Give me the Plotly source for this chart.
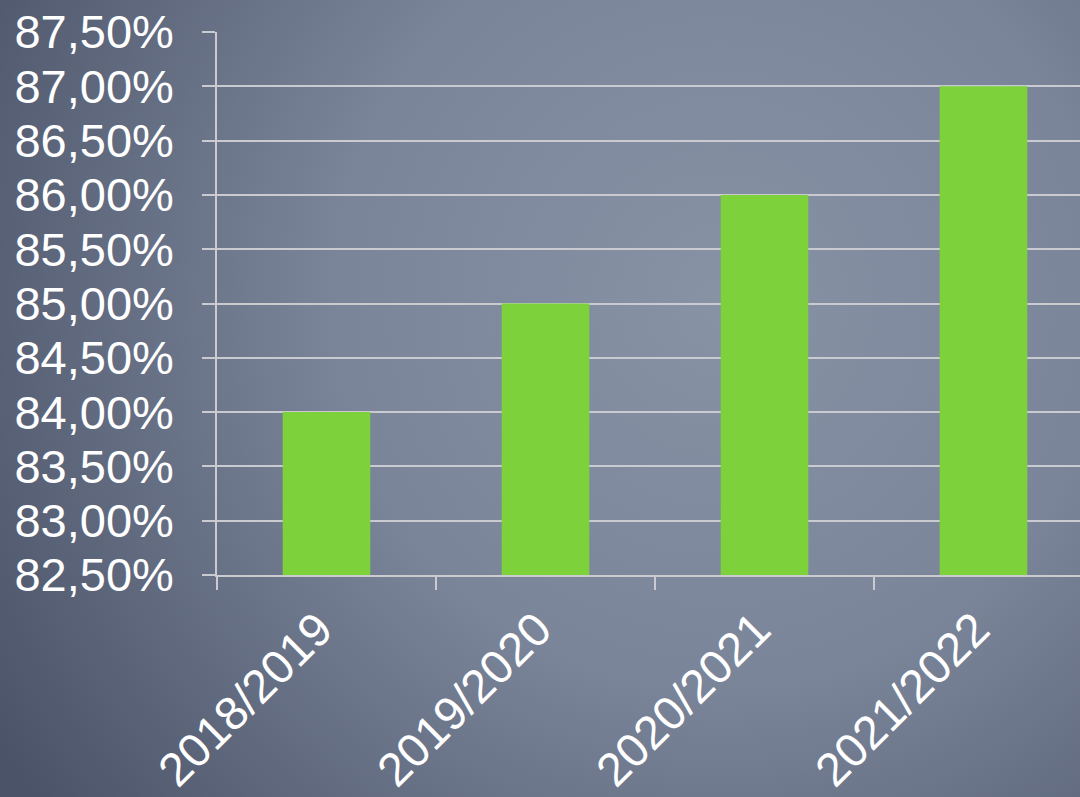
import base64
import plotly.graph_objects as go

# data
seasons = ["2018/2019", "2019/2020", "2020/2021", "2021/2022"]
rates = [84.0, 85.0, 86.0, 87.0]
y_ticks = [82.5, 83.0, 83.5, 84.0, 84.5, 85.0, 85.5, 86.0, 86.5, 87.0, 87.5]
y_labels = [f"{v:.2f}".replace(".", ",") + "%" for v in y_ticks]

W, H = 1080, 797
L, R, T, B = 217, 0, 32, 222
pw, ph = W - L - R, H - T - B

# slide-like radial gradient background as an svg data uri
svg = (
    f'<svg xmlns="http://www.w3.org/2000/svg" width="{W}" height="{H}">'
    '<defs><radialGradient id="g" cx="720" cy="300" r="850" gradientUnits="userSpaceOnUse">'
    '<stop offset="0" stop-color="#8792a5"/>'
    '<stop offset="0.45" stop-color="#7b859a"/>'
    '<stop offset="1" stop-color="#4a5368"/>'
    '</radialGradient></defs>'
    f'<rect width="{W}" height="{H}" fill="url(#g)"/></svg>'
)
bg_src = "data:image/svg+xml;base64," + base64.b64encode(svg.encode()).decode()

grid = "#c9cbd0"

fig = go.Figure(go.Bar(
    x=seasons, y=rates,
    marker=dict(color="#7dd13b", line_width=0),
    hovertemplate="%{x}: %{y:.2f}%<extra></extra>",
))

fig.update_layout(
    width=W, height=H,
    margin=dict(l=L, r=R, t=T, b=B, autoexpand=False),
    paper_bgcolor="#6c768b",
    plot_bgcolor="rgba(0,0,0,0)",
    bargap=0.6,
    showlegend=False,
    font=dict(family="Liberation Sans, Arial, sans-serif", color="white", size=46),
    images=[dict(
        source=bg_src, xref="paper", yref="paper",
        x=-L / pw, y=1 + T / ph, sizex=W / pw, sizey=H / ph,
        xanchor="left", yanchor="top", sizing="stretch", layer="below",
    )],
)

fig.update_xaxes(
    range=[-0.5, -0.5 + pw / 219],
    tickangle=-45,
    tickson="boundaries",
    ticks="outside", ticklen=13, tickcolor=grid, tickwidth=1.5,
    showline=True, linecolor=grid, linewidth=1.5,
    showgrid=False,
    tickfont=dict(size=47, color="white"),
    ticklabelshift=-8,
    ticklabelstandoff=6,
    automargin=False,
)
fig.update_yaxes(
    range=[82.5, 87.5],
    tickmode="array", tickvals=y_ticks, ticktext=y_labels,
    ticks="outside", ticklen=13, tickcolor=grid, tickwidth=1.5,
    showline=True, linecolor=grid, linewidth=1.5,
    showgrid=True, gridcolor=grid, gridwidth=1.5,
    zeroline=False,
    tickfont=dict(size=47, color="white"),
    ticklabelstandoff=19,
    automargin=False,
)

fig.write_html(
    "out.html",
    config={"displayModeBar": False},
    post_script="document.body.style.margin='0';document.body.style.overflow='hidden';",
)
